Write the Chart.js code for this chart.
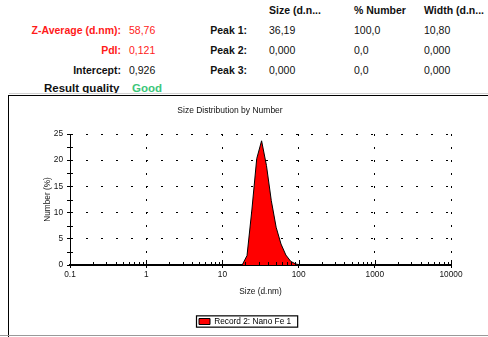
<!DOCTYPE html>
<html>
<head>
<meta charset="utf-8">
<script src="https://cdn.jsdelivr.net/npm/chart.js@4.4.0/dist/chart.umd.min.js"></script>
<style>
  body { margin:0; width:488px; height:337px; background:#fff; position:relative; overflow:hidden; font-family:"Liberation Sans", Arial, sans-serif; }
  .t { position:absolute; white-space:nowrap; font-size:10.5px; line-height:12px; color:#111; }
  .b { font-weight:bold; }
  .red { color:#ff1a1a; }
  .rq { font-size:11.5px; line-height:14px; font-weight:bold; }
  #box { position:absolute; left:8px; top:95px; width:480px; height:242px; border-left:1px solid #000; border-top:1px solid #000; }
  #wrap { position:absolute; left:9px; top:96px; width:479px; height:241px; }
  #topline { position:absolute; left:9px; top:93px; width:479px; height:1px; background:#d0d0d0; }
  #botline { position:absolute; left:0; top:335px; width:488px; height:1px; background:#999; }
</style>
</head>
<body>
  <div class="t b" style="left:269px;top:3.5px">Size (d.n...</div>
  <div class="t b" style="left:354px;top:3.5px">% Number</div>
  <div class="t b" style="left:424px;top:3.5px">Width (d.n...</div>

  <div class="t b red" style="right:367px;top:23.5px">Z-Average (d.nm):</div>
  <div class="t red" style="left:129px;top:23.5px">58,76</div>
  <div class="t b" style="right:241px;top:23.5px">Peak 1:</div>
  <div class="t" style="left:269px;top:23.5px">36,19</div>
  <div class="t" style="left:354px;top:23.5px">100,0</div>
  <div class="t" style="left:424px;top:23.5px">10,80</div>

  <div class="t b red" style="right:367px;top:43.5px">PdI:</div>
  <div class="t red" style="left:129px;top:43.5px">0,121</div>
  <div class="t b" style="right:241px;top:43.5px">Peak 2:</div>
  <div class="t" style="left:269px;top:43.5px">0,000</div>
  <div class="t" style="left:354px;top:43.5px">0,0</div>
  <div class="t" style="left:424px;top:43.5px">0,000</div>

  <div class="t b" style="right:367px;top:63.5px">Intercept:</div>
  <div class="t" style="left:129px;top:63.5px">0,926</div>
  <div class="t b" style="right:241px;top:63.5px">Peak 3:</div>
  <div class="t" style="left:269px;top:63.5px">0,000</div>
  <div class="t" style="left:354px;top:63.5px">0,0</div>
  <div class="t" style="left:424px;top:63.5px">0,000</div>

  <div class="t rq" style="left:44px;top:80.5px">Result quality</div>
  <div class="t rq" style="left:132px;top:80.5px;color:#3cc67a">Good</div>

  <div id="topline"></div>
  <div id="box"></div>
  <div id="wrap"><canvas id="myChart" width="479" height="241"></canvas></div>
  <div id="botline"></div>

<script>
  // sizes (d.nm) of the instrument bins around the peak, number %
  const sizes = [15.69, 18.17, 21.04, 24.36, 28.21, 32.67, 37.84, 43.82, 50.75, 58.77, 68.06, 78.82, 91.28, 105.7, 122.4];
  const numbers = [0, 0, 1.8, 10.5, 20.3, 23.7, 19.0, 12.3, 7.2, 4.0, 1.9, 0.7, 0.2, 0, 0];
  const xTicks = [0.1, 1, 10, 100, 1000, 10000];
  const xTickLabels = ['0.1', '1', '10', '100', '1000', '10000'];
  const yTicks = [0, 5, 10, 15, 20, 25];

  Chart.defaults.font.family = '"Liberation Sans", Arial, sans-serif';
  Chart.defaults.color = '#111';

  const ctx = document.getElementById('myChart');

  // minor ticks + frame round the legend
  const extras = {
    id: 'extras',
    afterLayout(chart) {
      const lg = chart.legend;
      const pad = lg.options.labels.padding;
      const start = (lg.left + pad + lg.right - lg.lineWidths[0]) / 2;
      const shift = 190 - start;
      lg.left += shift;
      lg.right += shift;
    },
    afterDraw(chart) {
      const c = chart.ctx;
      const area = chart.chartArea;
      const x = chart.scales.x, y = chart.scales.y;
      c.save();
      c.strokeStyle = '#000';
      c.lineWidth = 1;
      c.beginPath();
      for (let i = 0; i < xTicks.length - 1; i++) {
        for (let k = 2; k < 10; k++) {
          const px = Math.round(x.getPixelForValue(xTicks[i] * k)) + 0.5;
          c.moveTo(px, area.bottom);
          c.lineTo(px, area.bottom - 3);
        }
      }
      xTicks.forEach(v => {
        const px = Math.round(x.getPixelForValue(v)) + 0.5;
        c.moveTo(px, area.bottom);
        c.lineTo(px, area.bottom - 5);
      });
      for (let i = 0; i < yTicks.length - 1; i++) {
        const py = Math.round(y.getPixelForValue((yTicks[i] + yTicks[i + 1]) / 2)) + 0.5;
        c.moveTo(area.left - 3, py);
        c.lineTo(area.left + 3, py);
      }
      c.stroke();
      const hb = chart.legend.legendHitBoxes[0];
      if (hb) {
        c.lineWidth = 1.2;
        c.strokeRect(hb.left - 2.5, hb.top - 1.5, hb.width + 9, hb.height + 3);
      }
      c.restore();
    }
  };

  new Chart(ctx, {
    type: 'line',
    data: {
      datasets: [{
        label: 'Record 2: Nano Fe 1',
        data: sizes.map((s, i) => ({x: s, y: numbers[i]})),
        fill: 'origin',
        backgroundColor: '#ff0000',
        borderColor: '#000',
        borderWidth: 1,
        pointRadius: 0,
        tension: 0
      }]
    },
    options: {
      responsive: false,
      animation: false,
      layout: {
        padding: {left: 0, right: 37, top: 0, bottom: 1.35}
      },
      plugins: {
        title: {
          display: true,
          text: 'Size Distribution by Number',
          font: {size: 8.5, weight: 'normal'},
          color: '#111',
          padding: {top: 9.5, bottom: 18.3}
        },
        legend: {
          position: 'bottom',
          labels: {
            boxWidth: 11,
            boxHeight: 6,
            padding: 4,
            font: {size: 8.3},
            color: '#000'
          }
        },
        tooltip: {enabled: false}
      },
      scales: {
        x: {
          type: 'logarithmic',
          min: 0.1,
          max: 10000,
          afterBuildTicks: s => { s.ticks = xTicks.map(v => ({value: v})); },
          afterFit: s => { s.height = 48.35; },
          ticks: {
            autoSkip: false,
            maxRotation: 0,
            padding: 1.5,
            font: {size: 8.3},
            color: '#111',
            callback: (v, i) => xTickLabels[i]
          },
          grid: {color: '#000', lineWidth: 1, tickLength: 3},
          border: {display: true, color: '#000', width: 2, dash: [2, 11]},
          title: {
            display: true,
            text: 'Size (d.nm)',
            font: {size: 8.3},
            color: '#111',
            padding: {top: 0, bottom: 16.4}
          }
        },
        y: {
          type: 'linear',
          min: 0,
          max: 25,
          afterBuildTicks: s => { s.ticks = yTicks.map(v => ({value: v})); },
          afterFit: s => { s.width = 61; },
          ticks: {
            padding: 4,
            font: {size: 8.3},
            color: '#111'
          },
          grid: {color: '#000', lineWidth: 1, tickLength: 3},
          border: {display: true, color: '#000', width: 1, dash: [2, 13]},
          title: {
            display: true,
            text: 'Number (%)',
            font: {size: 8.3},
            color: '#111',
            padding: {top: 33.5, bottom: 0}
          }
        }
      }
    },
    plugins: [extras]
  });
</script>
</body>
</html>
